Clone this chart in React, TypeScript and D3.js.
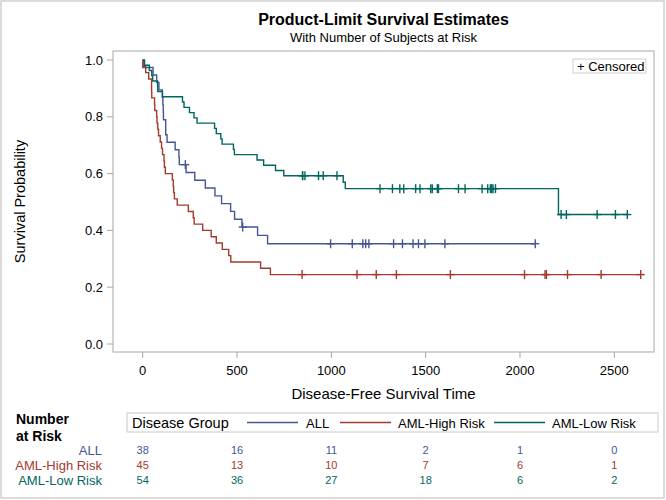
import * as d3 from 'd3';

// Disease-free survival times by group (events = relapse/death, censored = still disease-free)
const ALL_EVENTS = [418, 383, 276, 104, 609, 172, 487, 662, 194, 230, 526, 122, 129, 74, 122, 86, 466, 192, 109, 55, 1, 107, 110, 332];
const ALL_CENSORED = [2081, 1602, 1496, 1462, 1433, 1377, 1330, 996, 226, 1199, 1111, 530, 1182, 1167];

const HIGH_EVENTS = [422, 162, 84, 100, 2, 47, 242, 456, 268, 318, 32, 467, 47, 390, 183, 105, 115, 164, 93, 120, 80, 677, 64, 168, 74, 16, 157, 625, 48, 273, 63, 76, 113, 363];
const HIGH_CENSORED = [2640, 2430, 2252, 2140, 2133, 1238, 1631, 2024, 1345, 1136, 845];

const LOW_EVENTS = [414, 2204, 1063, 481, 105, 641, 390, 288, 421, 79, 748, 486, 48, 272, 1074, 381, 10, 53, 80, 35, 248, 704, 211, 219, 606];
const LOW_CENSORED = [2569, 2506, 2409, 2218, 1857, 1829, 1562, 1470, 1363, 1030, 860, 1258, 2246, 1870, 1799, 1709, 1674, 1568, 1527, 1324, 957, 932, 847, 848, 1850, 1843, 1535, 1447, 1384];

const GROUPS = ['ALL', 'AML-High Risk', 'AML-Low Risk'];
const COLORS = ['#445694', '#A23A2E', '#01665E'];

const X_TICKS = [0, 500, 1000, 1500, 2000, 2500];
const Y_TICKS = [0, 0.2, 0.4, 0.6, 0.8, 1.0];

// number at risk, read at the x ticks
const ALL_RISK = [38, 16, 11, 2, 1, 0];
const HIGH_RISK = [45, 13, 10, 7, 6, 1];
const LOW_RISK = [54, 36, 27, 18, 6, 2];

const FONT = '"Liberation Sans", Arial, sans-serif';
const FRAME = { left: 113, right: 654, top: 51, bottom: 352 };

type Curve = { steps: [number, number][]; censors: [number, number][] };

// Kaplan-Meier product-limit estimate
function productLimit(events: number[], censored: number[]): Curve {
  const times = Array.from(new Set([...events, ...censored])).sort((a, b) => a - b);
  let atRisk = events.length + censored.length;
  let s = 1;
  const steps: [number, number][] = [[0, 1]];
  const censors: [number, number][] = [];
  times.forEach((t) => {
    const d = events.filter((e) => e === t).length;
    const c = censored.filter((e) => e === t).length;
    if (d > 0) {
      s *= (atRisk - d) / atRisk;
      steps.push([t, s]);
    }
    if (c > 0) censors.push([t, s]);
    atRisk -= d + c;
  });
  steps.push([times[times.length - 1], s]);
  return { steps, censors };
}

export default function App() {
  const width = 666;
  const height = 500;

  const x = d3.scaleLinear().domain([0, 2500]).range([142.7, 614.3]);
  const y = d3.scaleLinear().domain([0, 1]).range([344, 60]);

  const curves = [
    productLimit(ALL_EVENTS, ALL_CENSORED),
    productLimit(HIGH_EVENTS, HIGH_CENSORED),
    productLimit(LOW_EVENTS, LOW_CENSORED),
  ];
  const risks = [ALL_RISK, HIGH_RISK, LOW_RISK];

  const line = d3
    .line<[number, number]>()
    .x((d) => x(d[0]))
    .y((d) => y(d[1]))
    .curve(d3.curveStepAfter);

  const axisColor = '#a8a8a8';
  const cx = (FRAME.left + FRAME.right) / 2;

  // legend entries along the bottom box
  const legendItems = [
    { lx: 247, tx: 306 },
    { lx: 340, tx: 398 },
    { lx: 494, tx: 552 },
  ];

  return (
    <svg
      width={width}
      height={height}
      viewBox={`0 0 ${width} ${height}`}
      style={{ position: 'absolute', left: 0, top: 0, fontFamily: FONT }}
    >
      <rect x={0} y={0} width={width} height={height} fill="#fff" />
      <rect x={1} y={1} width={width - 3} height={height - 3} fill="none" stroke="#d0d0d0" strokeWidth={1.5} />

      <text x={cx} y={25} textAnchor="middle" fontSize={16} fontWeight="bold" fill="#000">
        Product-Limit Survival Estimates
      </text>
      <text x={cx} y={42} textAnchor="middle" fontSize={13} fill="#000">
        With Number of Subjects at Risk
      </text>

      {/* plot frame */}
      <rect
        x={FRAME.left}
        y={FRAME.top}
        width={FRAME.right - FRAME.left}
        height={FRAME.bottom - FRAME.top}
        fill="none"
        stroke={axisColor}
        strokeWidth={1}
      />

      {/* y axis */}
      {Y_TICKS.map((t) => (
        <g key={t}>
          <line x1={107} x2={FRAME.left} y1={y(t)} y2={y(t)} stroke={axisColor} />
          <text x={103} y={y(t) + 4.5} textAnchor="end" fontSize={13} fill="#000">
            {t.toFixed(1)}
          </text>
        </g>
      ))}
      <text
        transform={`translate(25, ${(FRAME.top + FRAME.bottom) / 2}) rotate(-90)`}
        textAnchor="middle"
        fontSize={14.5}
        fill="#000"
      >
        Survival Probability
      </text>

      {/* x axis */}
      {X_TICKS.map((t) => (
        <g key={t}>
          <line x1={x(t)} x2={x(t)} y1={FRAME.bottom} y2={358} stroke={axisColor} />
          <text x={x(t)} y={375} textAnchor="middle" fontSize={13} fill="#000">
            {t}
          </text>
        </g>
      ))}
      <text x={cx} y={399} textAnchor="middle" fontSize={15} fill="#000">
        Disease-Free Survival Time
      </text>

      {/* curves */}
      {curves.map((c, i) => (
        <g key={GROUPS[i]} stroke={COLORS[i]} fill="none" strokeWidth={1.4}>
          <path d={line(c.steps) ?? ''} />
          {c.censors.map(([t, s], j) => (
            <g key={j}>
              <line x1={x(t)} x2={x(t)} y1={y(s) - 4.5} y2={y(s) + 4.5} />
              <line x1={x(t) - 4} x2={x(t) + 4} y1={y(s)} y2={y(s)} />
            </g>
          ))}
        </g>
      ))}

      {/* censored legend */}
      <rect x={573} y={59} width={73} height={14} fill="#fff" stroke="#d0d0d0" />
      <text x={577} y={70.5} fontSize={13} fill="#000">
        + Censored
      </text>

      {/* number at risk */}
      <text x={16} y={424} fontSize={14} fontWeight="bold" fill="#000">
        Number
      </text>
      <text x={16} y={441} fontSize={14} fontWeight="bold" fill="#000">
        at Risk
      </text>

      <rect x={127} y={413} width={531} height={19} fill="#fff" stroke="#c8c8c8" />
      <text x={132} y={428} fontSize={14.5} fill="#000">
        Disease Group
      </text>
      {legendItems.map((item, i) => (
        <g key={GROUPS[i]}>
          <line x1={item.lx} x2={item.lx + 51} y1={422.5} y2={422.5} stroke={COLORS[i]} strokeWidth={1.4} />
          <text x={item.tx} y={427.5} fontSize={13} fill="#000">
            {GROUPS[i]}
          </text>
        </g>
      ))}

      {GROUPS.map((g, i) => (
        <g key={g} fill={COLORS[i]}>
          <text x={102} y={455 + i * 15} textAnchor="end" fontSize={13}>
            {g}
          </text>
          {risks[i].map((n, j) => (
            <text key={j} x={x(X_TICKS[j])} y={454 + i * 15} textAnchor="middle" fontSize={11}>
              {n}
            </text>
          ))}
        </g>
      ))}
    </svg>
  );
}
